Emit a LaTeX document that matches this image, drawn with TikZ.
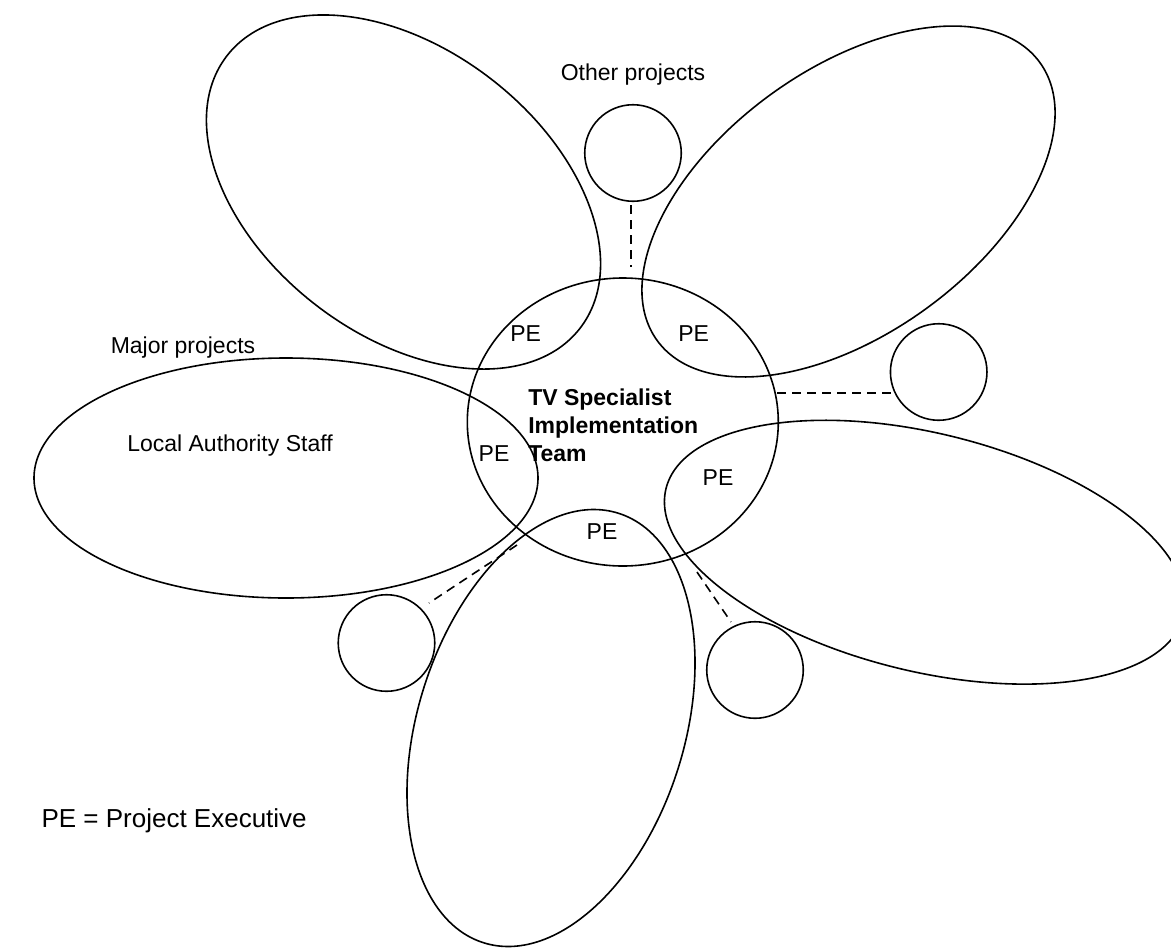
\documentclass[tikz,border=0pt]{standalone}
\usepackage{fontspec}
\setmainfont{Liberation Sans}
\usetikzlibrary{shapes.geometric}
\begin{document}
\begin{tikzpicture}[x=0.75pt,y=-0.75pt,
  shp/.style={draw=black, line width=1.2pt, inner sep=0pt, outer sep=0pt},
  ell/.style={shp, ellipse},
  ring/.style={shp, circle, minimum size=72.4pt},
  lbl/.style={font=\fontsize{17.25}{21.2}\selectfont, inner sep=0pt},
  boldlbl/.style={font=\fontsize{17.25}{21.2}\selectfont\bfseries, inner sep=0pt},
  keylbl/.style={font=\fontsize{19.5}{23}\selectfont, inner sep=0pt},
  dashline/.style={line width=1.2pt, dash pattern=on 6.75pt off 4.5pt}]
\useasboundingbox[fill=white] (0,0) rectangle (1171,947);
% large ellipses
\node[ell, minimum width=334.5pt, minimum height=214.5pt, rotate=-37.6] (tl) at (403.5,192) {};
\node[ell, minimum width=354.75pt, minimum height=198.45pt, rotate=36] (tr) at (848.5,201.5) {};
\node[ell, minimum width=378pt, minimum height=180pt] (lf) at (286,478) {};
\node[ell, minimum width=399.75pt, minimum height=178.5pt, rotate=-13.8] (rt) at (924.8,552.2) {};
\node[ell, minimum width=337.65pt, minimum height=200.1pt, rotate=72.6] (bt) at (551,728) {};
\node[ell, minimum width=233.25pt, minimum height=216pt] (tv) at (622.8,422) {};
% small circles
\node[ring] (oc) at (633,153) {};
\node[ring] (rc) at (938.7,372) {};
\node[ring] (blc) at (386.5,643) {};
\node[ring] (brc) at (755,670) {};
% dashed connectors
\coordinate (d1a) at (631,205); \coordinate (d1b) at (631,267);
\coordinate (d2a) at (777,393); \coordinate (d2b) at (891,393);
\coordinate (d3a) at (517,545); \coordinate (d3b) at (429,603);
\coordinate (d4a) at (697,572); \coordinate (d4b) at (731,622);
\draw[dashline] (d1a) -- (d1b);
\draw[dashline] (d2a) -- (d2b);
\draw[dashline] (d3a) -- (d3b);
\draw[dashline] (d4a) -- (d4b);
% labels
\node[lbl, anchor=base] (op) at (633,80) {Other projects};
\node[lbl, anchor=base] (mp) at (183,353) {Major projects};
\node[lbl, anchor=base] (las) at (230,451.7) {Local Authority Staff};
\node[lbl, anchor=base] (pe1) at (525.7,341.7) {PE};
\node[lbl, anchor=base] (pe2) at (693.7,341.7) {PE};
\node[lbl, anchor=base] (pe3) at (494,461.7) {PE};
\node[lbl, anchor=base] (pe4) at (718,485.7) {PE};
\node[lbl, anchor=base] (pe5) at (602,539) {PE};
\node[boldlbl, anchor=base west] (tv1) at (528,405) {TV Specialist};
\node[boldlbl, anchor=base west] (tv2) at (528,433.3) {Implementation};
\node[boldlbl, anchor=base west] (tv3) at (528,461.7) {Team};
\node[keylbl, anchor=base east] (key) at (307,827) {PE = Project Executive};
\end{tikzpicture}
\end{document}
